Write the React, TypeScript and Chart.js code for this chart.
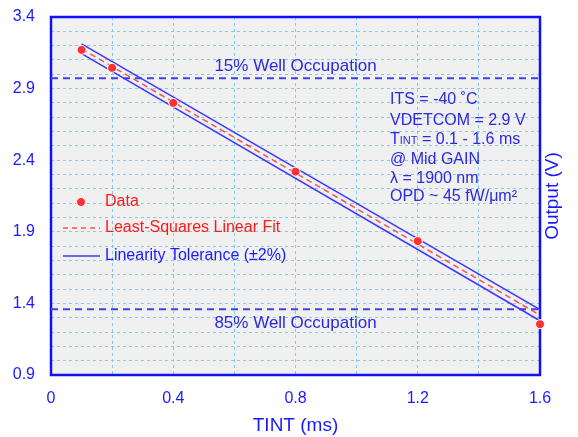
import React, { useEffect, useRef } from "react";
import { Chart, registerables } from "chart.js";

Chart.register(...registerables);

// ---- data ----
const tintMs = [0.1, 0.2, 0.4, 0.8, 1.2, 1.6];
const outputV = [3.17, 3.045, 2.8, 2.32, 1.835, 1.255];
const fitX = [0.1, 1.6];
const fitY = [3.178, 1.318];
const upperY = [3.212, 1.357];
const lowerY = [3.144, 1.279];
const wellX = [0, 1.6];
const well15 = [2.972, 2.972];
const well85 = [1.36, 1.36];
const xTickLabels = ["0", "0.4", "0.8", "1.2", "1.6"];
const yTickLabels = ["0.9", "1.4", "1.9", "2.4", "2.9", "3.4"];
const infoLines = [
  "ITS = -40 ˚C",
  "VDETCOM = 2.9 V",
  "TINT = 0.1 - 1.6 ms",
  "@ Mid GAIN",
  "λ = 1900 nm",
  "OPD ~ 45 fW/μm²",
];
const legendLabels = ["Data", "Least-Squares Linear Fit", "Linearity Tolerance (±2%)"];
const wellLabels = ["15% Well Occupation", "85% Well Occupation"];

const FONT = "'Liberation Sans', Arial, sans-serif";
const BLUE = "#1a1aff";
const TEXT_BLUE = "#2a2ae0";
const RED = "#ff3030";
const GRID = "#84cbe8";

const pts = (xs: number[], ys: number[]) => xs.map((x, i) => ({ x, y: ys[i] }));

const labelFor = (labels: string[], v: number) =>
  labels.find((l) => Math.abs(parseFloat(l) - v) < 1e-6) ?? "";

const decor = {
  id: "decor",
  beforeDraw(chart: any) {
    const { ctx, chartArea: a } = chart;
    ctx.save();
    ctx.fillStyle = "#f0f0f0";
    ctx.fillRect(a.left, a.top, a.right - a.left, a.bottom - a.top);
    ctx.restore();
  },
  beforeDatasetsDraw(chart: any) {
    const { ctx, chartArea: a } = chart;
    ctx.save();
    ctx.strokeStyle = "#1010ff";
    ctx.lineWidth = 2.5;
    ctx.strokeRect(a.left, a.top, a.right - a.left, a.bottom - a.top);
    ctx.restore();
  },
  afterDatasetsDraw(chart: any) {
    const { ctx, chartArea: a, scales } = chart;
    const ys = scales.y;
    ctx.save();
    // well occupation labels
    ctx.font = `17px ${FONT}`;
    ctx.fillStyle = TEXT_BLUE;
    ctx.textAlign = "center";
    ctx.textBaseline = "middle";
    const cx = (a.left + a.right) / 2;
    ctx.fillText(wellLabels[0], cx, ys.getPixelForValue(well15[0]) - 12);
    ctx.fillText(wellLabels[1], cx, ys.getPixelForValue(well85[0]) + 14);

    // info block
    ctx.textAlign = "left";
    const ix = 390;
    const iy = [100, 121, 140, 160, 179, 197];
    infoLines.forEach((line, i) => {
      if (line.startsWith("TINT")) {
        ctx.font = `16px ${FONT}`;
        ctx.fillText("T", ix, iy[i]);
        let x = ix + ctx.measureText("T").width;
        ctx.font = `11px ${FONT}`;
        ctx.fillText("INT", x, iy[i] + 1);
        x += ctx.measureText("INT").width;
        ctx.font = `16px ${FONT}`;
        ctx.fillText(line.slice(4), x, iy[i]);
      } else {
        ctx.font = `16px ${FONT}`;
        ctx.fillText(line, ix, iy[i]);
      }
    });

    // legend
    const lx0 = 63, lx1 = 100, tx = 105;
    const ly = [202, 228, 256];
    ctx.font = `16px ${FONT}`;
    ctx.beginPath();
    ctx.arc(81, ly[0], 4.5, 0, Math.PI * 2);
    ctx.fillStyle = RED;
    ctx.fill();
    ctx.strokeStyle = "#ffffff";
    ctx.lineWidth = 1;
    ctx.stroke();
    ctx.fillStyle = "#ff1a1a";
    ctx.fillText(legendLabels[0], tx, ly[0]);

    ctx.beginPath();
    ctx.setLineDash([5, 4]);
    ctx.strokeStyle = "#ff5050";
    ctx.lineWidth = 1.5;
    ctx.moveTo(lx0, ly[1]);
    ctx.lineTo(lx1, ly[1]);
    ctx.stroke();
    ctx.setLineDash([]);
    ctx.fillStyle = "#ff1a1a";
    ctx.fillText(legendLabels[1], tx, ly[1]);

    ctx.beginPath();
    ctx.strokeStyle = "#3a3aff";
    ctx.lineWidth = 1.5;
    ctx.moveTo(lx0, ly[2]);
    ctx.lineTo(lx1, ly[2]);
    ctx.stroke();
    ctx.fillStyle = "#1a1aff";
    ctx.fillText(legendLabels[2], tx, ly[2]);

    // right-side y title
    ctx.translate(553, (a.top + a.bottom) / 2);
    ctx.rotate(-Math.PI / 2);
    ctx.textAlign = "center";
    ctx.font = `19px ${FONT}`;
    ctx.fillStyle = BLUE;
    ctx.fillText("Output (V)", 0, 0);
    ctx.restore();
  },
};

export default function App() {
  const ref = useRef<HTMLCanvasElement | null>(null);
  useEffect(() => {
    if (!ref.current) return;
    const chart = new Chart(ref.current, {
      type: "scatter",
      data: {
        datasets: [
          {
            label: "Data",
            data: pts(tintMs, outputV),
            showLine: false,
            pointRadius: 4.5,
            pointBackgroundColor: RED,
            pointBorderColor: "#ffffff",
            pointBorderWidth: 1,
            clip: false,
          } as any,
          {
            label: "Fit",
            data: pts(fitX, fitY),
            showLine: true,
            pointRadius: 0,
            borderColor: "#ff5050",
            borderWidth: 1.5,
            borderDash: [6, 4],
          },
          {
            label: "Upper",
            data: pts(fitX, upperY),
            showLine: true,
            pointRadius: 0,
            borderColor: "#3a3aff",
            borderWidth: 1.5,
          },
          {
            label: "Lower",
            data: pts(fitX, lowerY),
            showLine: true,
            pointRadius: 0,
            borderColor: "#3a3aff",
            borderWidth: 1.5,
          },
          {
            label: "15%",
            data: pts(wellX, well15),
            showLine: true,
            pointRadius: 0,
            borderColor: "#4040e8",
            borderWidth: 2,
            borderDash: [7, 5],
          },
          {
            label: "85%",
            data: pts(wellX, well85),
            showLine: true,
            pointRadius: 0,
            borderColor: "#4040e8",
            borderWidth: 2,
            borderDash: [7, 5],
          },
        ],
      },
      options: {
        animation: false,
        responsive: false,
        events: [],
        layout: { padding: { left: 0, top: 17, right: 38, bottom: 0 } },
        plugins: { legend: { display: false }, tooltip: { enabled: false } },
        scales: {
          x: {
            type: "linear",
            min: 0,
            max: 1.6,
            afterFit: (s: any) => {
              s.height = 62;
              s.paddingLeft = 0;
              s.paddingRight = 0;
            },
            ticks: {
              stepSize: 0.2,
              autoSkip: false,
              maxRotation: 0,
              padding: 14,
              color: BLUE,
              font: { family: FONT, size: 16 },
              callback: (v: any) => labelFor(xTickLabels, Number(v)),
            },
            grid: { color: GRID, lineWidth: 1, drawTicks: false },
            border: { display: false, dash: [3, 3] },
            title: {
              display: true,
              text: "TINT (ms)",
              color: BLUE,
              font: { family: FONT, size: 19 },
              padding: { top: 2, bottom: 0 },
            },
          },
          y: {
            type: "linear",
            min: 0.9,
            max: 3.4,
            afterFit: (s: any) => {
              s.width = 51;
              s.paddingTop = 0;
              s.paddingBottom = 0;
            },
            ticks: {
              stepSize: 0.1,
              autoSkip: false,
              padding: 16,
              color: BLUE,
              font: { family: FONT, size: 16 },
              callback: (v: any) => labelFor(yTickLabels, Number(v)),
            },
            grid: { color: GRID, lineWidth: 1, drawTicks: false },
            border: { display: false, dash: [3, 3] },
          },
        },
      },
      plugins: [decor],
    } as any);
    return () => chart.destroy();
  }, []);
  return (
    <div style={{ position: "absolute", left: 0, top: 0, width: 578, height: 437, background: "#ffffff" }}>
      <canvas ref={ref} width={578} height={437} />
    </div>
  );
}
